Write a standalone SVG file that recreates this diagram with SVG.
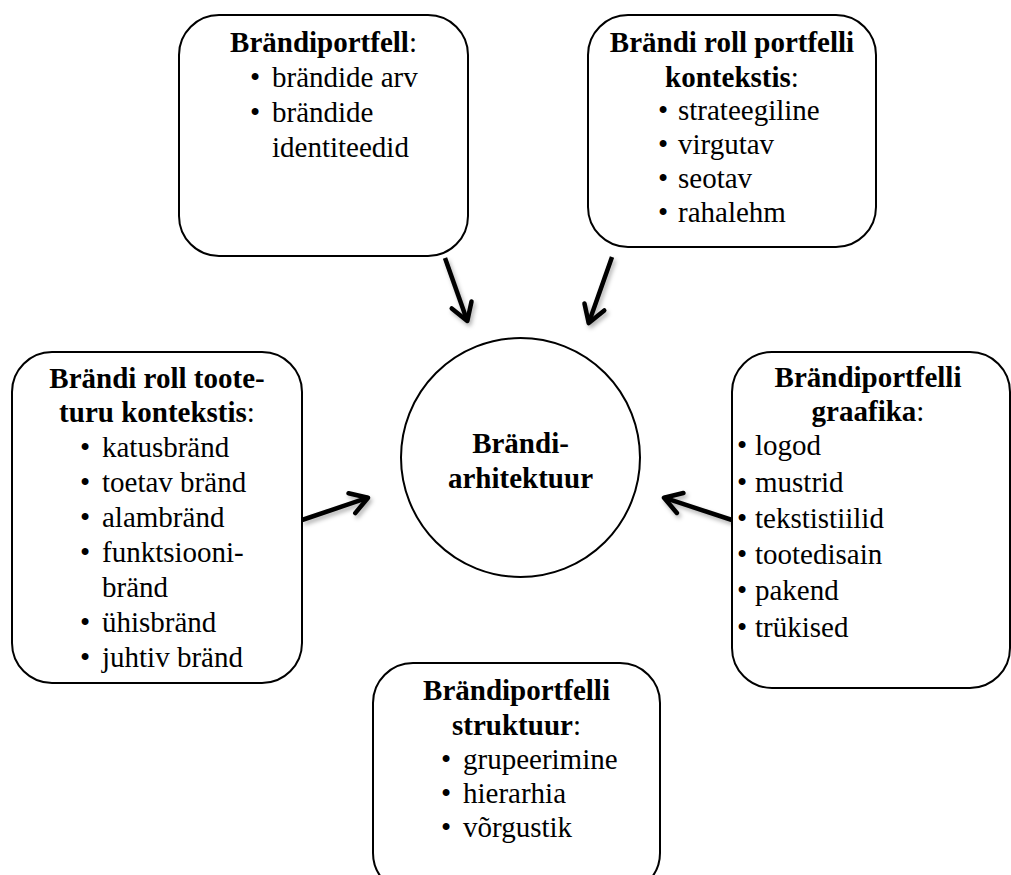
<svg xmlns="http://www.w3.org/2000/svg" width="1011" height="875" viewBox="0 0 1011 875">
  <style>
    .box { fill: #ffffff; stroke: #000000; stroke-width: 2; }
    .t { font-family: "Liberation Serif", "Times New Roman", serif; font-size: 29px; fill: #000000; }
    .h { font-weight: bold; text-anchor: middle; }
    .n { font-weight: normal; }
    .b { text-anchor: middle; }
    .arrow { fill: none; stroke: #000000; stroke-width: 4.5; stroke-linecap: butt; marker-end: url(#head); filter: url(#shadow); }
  </style>
  <defs>
    <marker id="head" markerUnits="userSpaceOnUse" viewBox="-22 -16 26 32" markerWidth="26" markerHeight="32" refX="0" refY="0" orient="auto">
      <path d="M -17 -10.5 L 0 0 L -17 10.5" fill="none" stroke="#000000" stroke-width="4.5" stroke-linecap="round" stroke-linejoin="round"/>
    </marker>
    <filter id="shadow" x="-50%" y="-50%" width="200%" height="200%">
      <feDropShadow dx="2" dy="3" stdDeviation="2" flood-color="#000000" flood-opacity="0.3"/>
    </filter>
  </defs>
  <rect width="1011" height="875" fill="#ffffff"/>

  <!-- connectors -->
  <g id="connectors">
    <path class="arrow" d="M 445 258 L 467.3 321"/>
    <path class="arrow" d="M 612 257 L 588.7 323"/>
    <path class="arrow" d="M 302 520 L 368 497.7"/>
    <path class="arrow" d="M 732 520 L 664 497.7"/>
    <path class="arrow" d="M 517 663 L 517 595"/>
  </g>

  <!-- central node -->
  <g id="brandiarhitektuur">
    <circle class="box" cx="520.5" cy="457.5" r="119.5"/>
    <text class="t h" x="520.5" y="453">Brändi-</text>
    <text class="t h" x="520.5" y="488">arhitektuur</text>
  </g>

  <g id="brandiportfell">
    <rect class="box" x="179" y="15" width="289" height="241" rx="40" ry="40"/>
    <text class="t h" x="323.5" y="52">Brändiportfell<tspan class="n">:</tspan></text>
    <text class="t b" x="255" y="87">•</text>
    <text class="t b" x="255" y="122">•</text>
    <text class="t" x="272" y="87">brändide arv</text>
    <text class="t" x="272" y="122">brändide</text>
    <text class="t" x="272" y="157">identiteedid</text>
  </g>

  <g id="roll-portfelli-kontekstis">
    <rect class="box" x="588" y="15" width="288" height="232" rx="40" ry="40"/>
    <text class="t h" x="732" y="52">Brändi roll portfelli</text>
    <text class="t h" x="732" y="87">kontekstis<tspan class="n">:</tspan></text>
    <text class="t b" x="663" y="120">•</text>
    <text class="t b" x="663" y="154">•</text>
    <text class="t b" x="663" y="188">•</text>
    <text class="t b" x="663" y="222">•</text>
    <text class="t" x="678" y="120">strateegiline</text>
    <text class="t" x="678" y="154">virgutav</text>
    <text class="t" x="678" y="188">seotav</text>
    <text class="t" x="678" y="222">rahalehm</text>
  </g>

  <g id="roll-tooteturu-kontekstis">
    <rect class="box" x="12" y="352" width="290" height="331" rx="40" ry="40"/>
    <text class="t h" x="157" y="388">Brändi roll toote-</text>
    <text class="t h" x="157" y="422">turu kontekstis<tspan class="n">:</tspan></text>
    <text class="t b" x="85" y="457">•</text>
    <text class="t b" x="85" y="492">•</text>
    <text class="t b" x="85" y="527">•</text>
    <text class="t b" x="85" y="562">•</text>
    <text class="t b" x="85" y="632">•</text>
    <text class="t b" x="85" y="667">•</text>
    <text class="t" x="102" y="457">katusbränd</text>
    <text class="t" x="102" y="492">toetav bränd</text>
    <text class="t" x="102" y="527">alambränd</text>
    <text class="t" x="102" y="562">funktsiooni-</text>
    <text class="t" x="102" y="597">bränd</text>
    <text class="t" x="102" y="632">ühisbränd</text>
    <text class="t" x="102" y="667">juhtiv bränd</text>
  </g>

  <g id="portfelli-graafika">
    <rect class="box" x="732" y="352" width="278" height="336" rx="40" ry="40"/>
    <text class="t h" x="868" y="387">Brändiportfelli</text>
    <text class="t h" x="868" y="421">graafika<tspan class="n">:</tspan></text>
    <text class="t b" x="742" y="455">•</text>
    <text class="t b" x="742" y="492">•</text>
    <text class="t b" x="742" y="528">•</text>
    <text class="t b" x="742" y="564">•</text>
    <text class="t b" x="742" y="600">•</text>
    <text class="t b" x="742" y="637">•</text>
    <text class="t" x="755" y="455">logod</text>
    <text class="t" x="755" y="492">mustrid</text>
    <text class="t" x="755" y="528">tekstistiilid</text>
    <text class="t" x="755" y="564">tootedisain</text>
    <text class="t" x="755" y="600">pakend</text>
    <text class="t" x="755" y="637">trükised</text>
  </g>

  <g id="portfelli-struktuur">
    <rect class="box" x="373" y="663" width="287" height="230" rx="40" ry="40"/>
    <text class="t h" x="516.5" y="700">Brändiportfelli</text>
    <text class="t h" x="516.5" y="735">struktuur<tspan class="n">:</tspan></text>
    <text class="t b" x="446" y="769">•</text>
    <text class="t b" x="446" y="803">•</text>
    <text class="t b" x="446" y="837">•</text>
    <text class="t" x="463" y="769">grupeerimine</text>
    <text class="t" x="463" y="803">hierarhia</text>
    <text class="t" x="463" y="837">võrgustik</text>
  </g>
</svg>
